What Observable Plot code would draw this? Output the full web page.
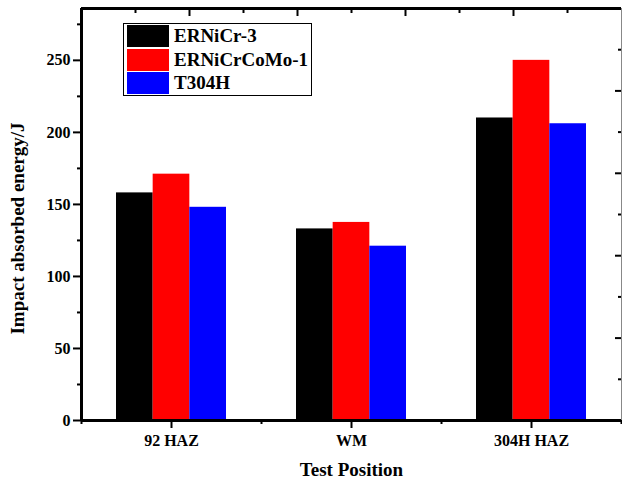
<!DOCTYPE html>
<html>
<head>
<meta charset="utf-8">
<script src="https://cdn.jsdelivr.net/npm/d3@7"></script>
<script src="https://cdn.jsdelivr.net/npm/@observablehq/plot@0.6"></script>
<style>
  html, body { margin: 0; padding: 0; background: #fff; }
  #wrap { position: relative; width: 622px; height: 481px; font-family: "Liberation Serif", "Times New Roman", serif; }
  #legend { position: absolute; left: 123px; top: 23px; width: 187px; height: 71px; border: 1px solid #000; background: #fff; box-sizing: content-box; }
  .row { position: absolute; left: 3px; height: 22px; display: flex; align-items: center; }
  .sw { width: 42px; height: 22px; margin-right: 5px; }
  .lab { font-weight: bold; font-size: 19px; color: #000; white-space: nowrap; }
</style>
</head>
<body>
<div id="wrap"></div>
<script>
// ---- data ----
const categories = ["92 HAZ", "WM", "304H HAZ"];
const series = ["ERNiCr-3", "ERNiCrCoMo-1", "T304H"];
const ernicr3 = [158, 133, 210];
const ernicrcomo1 = [171, 137.5, 250];
const t304h = [148, 121, 206];
const colors = ["#000000", "#ff0000", "#0000ff"];
const yMajorTicks = [0, 50, 100, 150, 200, 250];
const yMinorTicks = [25, 75, 125, 175, 225, 275];
const yMax = 286;
const secondaryTicks = [1, 2, 3, 4, 5, 6, 7, 8, 9]; // unlabeled 0–10 top/right axes
const xAxisLabel = "Test Position";
const yAxisLabel = "Impact absorbed energy/J";

// ---- build table ----
const seriesValues = [ernicr3, ernicrcomo1, t304h];
const data = [];
categories.forEach((c, ci) => {
  series.forEach((s, si) => {
    data.push({category: c, pos: ci + 1, series: s, si, value: seriesValues[si][ci]});
  });
});

const barW = 0.2037;              // bar width in category units
const groupHalf = barW * series.length / 2;
const xDomain = [0.5, categories.length + 0.5];
const span = xDomain[1] - xDomain[0];
const secMajor = secondaryTicks.filter(k => k % 2 === 0);
const secMinor = secondaryTicks.filter(k => k % 2 === 1);
const toX = k => xDomain[0] + k * span / 10;
const toY = k => k * yMax / 10;

const chart = Plot.plot({
  width: 622,
  height: 481,
  marginLeft: 81,
  marginRight: 1,
  marginTop: 8,
  marginBottom: 61,
  style: {fontFamily: "'Liberation Serif', 'Times New Roman', serif", fontWeight: "bold", background: "#fff", color: "#000"},
  x: {type: "linear", domain: xDomain, axis: null},
  y: {domain: [0, yMax], axis: null},
  color: {domain: series, range: colors},
  marks: [
    Plot.rectY(data, {
      x1: d => d.pos - groupHalf + d.si * barW,
      x2: d => d.pos - groupHalf + (d.si + 1) * barW,
      y1: 0, y2: "value",
      fill: "series"
    }),
    // left axis
    Plot.axisY({anchor: "left", ticks: yMajorTicks, tickSize: 8, tickPadding: 3, strokeWidth: 2, fontSize: 16, label: null}),
    Plot.axisY({anchor: "left", ticks: yMinorTicks, tickSize: 4, strokeWidth: 2, fill: "none", label: null}),
    // bottom axis
    Plot.axisX({anchor: "bottom", ticks: categories.map((c, i) => i + 1), tickFormat: v => categories[Math.round(v) - 1],
      tickSize: 8, tickPadding: 6, strokeWidth: 2, fontSize: 16, label: null}),
    Plot.axisX({anchor: "bottom", ticks: d3.range(categories.length + 1).map(i => i + 0.5), tickSize: 4, strokeWidth: 2, fill: "none", label: null}),
    // top axis (inward)
    Plot.axisX({anchor: "top", ticks: secMajor.map(toX), tickSize: -7, strokeWidth: 2, fill: "none", label: null}),
    Plot.axisX({anchor: "top", ticks: secMinor.map(toX), tickSize: -4, strokeWidth: 2, fill: "none", label: null}),
    // right axis (inward)
    Plot.axisY({anchor: "right", ticks: secMajor.map(toY), tickSize: -7, strokeWidth: 2, fill: "none", label: null}),
    Plot.axisY({anchor: "right", ticks: secMinor.map(toY), tickSize: -4, strokeWidth: 2, fill: "none", label: null}),
    // frame
    Plot.ruleX([xDomain[1]], {stroke: "#888", strokeWidth: 1}),
    Plot.ruleX([xDomain[0]], {stroke: "#000", strokeWidth: 3}),
    Plot.ruleY([0], {stroke: "#000", strokeWidth: 3}),
    Plot.ruleY([yMax], {stroke: "#000", strokeWidth: 3}),
    // axis titles
    Plot.text([xAxisLabel], {frameAnchor: "bottom", dy: 49, fontSize: 19, fontWeight: "bold", lineAnchor: "middle"}),
    Plot.text([yAxisLabel], {frameAnchor: "left", dx: -63.5, dy: 14, rotate: -90, fontSize: 19, fontWeight: "bold", lineAnchor: "middle", textAnchor: "middle"})
  ]
});

const wrap = document.getElementById("wrap");
wrap.appendChild(chart);

// legend
const legend = d3.select(wrap).append("div").attr("id", "legend");
series.forEach((s, i) => {
  const row = legend.append("div").attr("class", "row").style("top", (1 + i * 23.5) + "px");
  row.append("div").attr("class", "sw").style("background", colors[i]);
  row.append("span").attr("class", "lab").text(s);
});
</script>
</body>
</html>
